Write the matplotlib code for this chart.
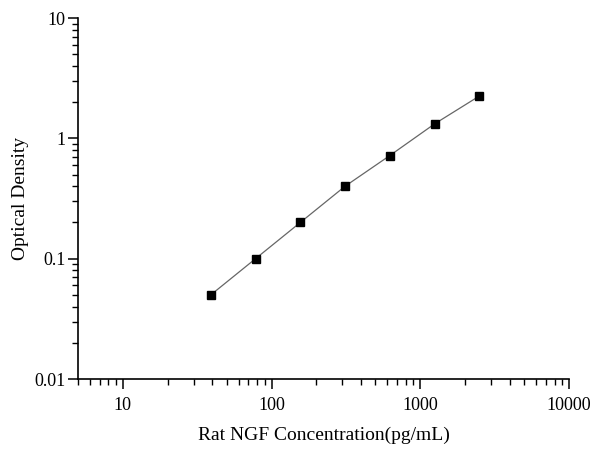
import matplotlib
matplotlib.use("Agg")
import matplotlib.pyplot as plt
from matplotlib.ticker import LogLocator, NullFormatter

concentration = [39.06, 78.13, 156.25, 312.5, 625, 1250, 2500]
od = [0.05, 0.10, 0.20, 0.40, 0.72, 1.32, 2.25]
xticks = [10, 100, 1000, 10000]
xticklabels = ["10", "100", "1000", "10000"]
yticks = [0.01, 0.1, 1, 10]
yticklabels = ["0.01", "0.1", "1", "10"]

plt.rcParams['font.family'] = ['Liberation Serif', 'DejaVu Serif']

fig = plt.figure(figsize=(6.0, 4.55), dpi=100)
ax = fig.add_axes([78/600, 1-379/455, (569-78)/600, (379-18)/455])
ax.plot(concentration, od, color='#666666', lw=0.9, marker='s', ms=6,
        mfc='black', mec='black', zorder=3)
ax.set_xscale('log')
ax.set_yscale('log')
ax.set_xlim(5, 10000)
ax.set_ylim(0.01, 10)
ax.set_xticks(xticks)
ax.set_xticklabels(xticklabels)
ax.set_yticks(yticks)
ax.set_yticklabels(yticklabels)
ax.xaxis.set_minor_locator(LogLocator(base=10, subs=range(2, 10), numticks=20))
ax.yaxis.set_minor_locator(LogLocator(base=10, subs=range(2, 10), numticks=20))
ax.xaxis.set_minor_formatter(NullFormatter())
ax.yaxis.set_minor_formatter(NullFormatter())
for s in ['top', 'right']:
    ax.spines[s].set_visible(False)
for s in ['left', 'bottom']:
    ax.spines[s].set_linewidth(1.2)
ax.tick_params(which='major', direction='out', length=7, width=1.1, labelsize=13, pad=2)
ax.tick_params(which='minor', direction='out', length=4, width=1.0)
ax.tick_params(axis='x', pad=6)
ax.set_xlabel('Rat NGF Concentration(pg/mL)', fontsize=14, labelpad=9)
ax.set_ylabel('Optical Density', fontsize=14, labelpad=4)
fig.savefig('out.png', dpi=100)
